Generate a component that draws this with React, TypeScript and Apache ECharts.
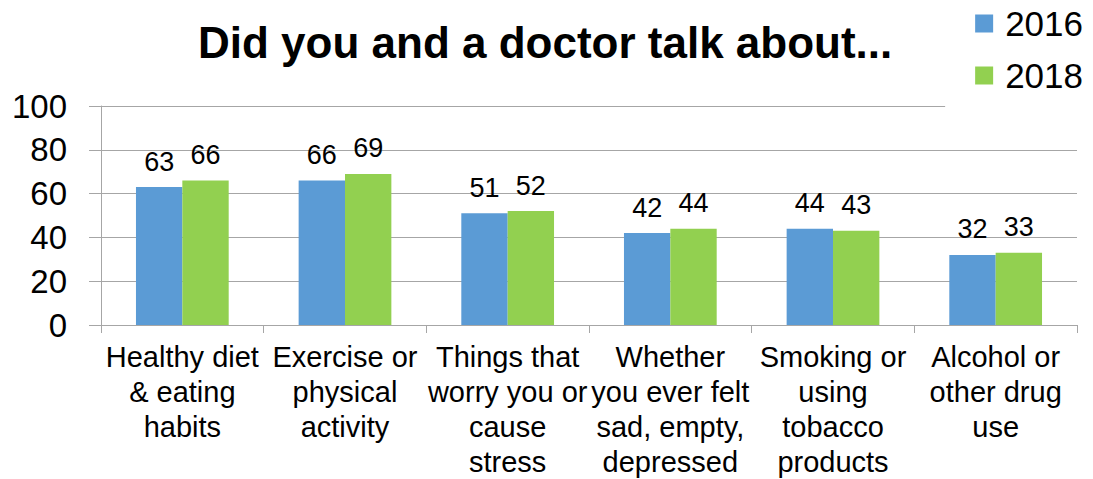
import React, { useEffect, useRef } from "react";
import * as echarts from "echarts";

const categories = [
  "Healthy diet\n& eating\nhabits",
  "Exercise or\nphysical\nactivity",
  "Things that\nworry you or\ncause\nstress",
  "Whether\nyou ever felt\nsad, empty,\ndepressed",
  "Smoking or\nusing\ntobacco\nproducts",
  "Alcohol or\nother drug\nuse",
];
const values2016 = [63, 66, 51, 42, 44, 32];
const values2018 = [66, 69, 52, 44, 43, 33];
const yTicks = { min: 0, max: 100, interval: 20 };

const FONT = "'Liberation Sans', Arial, sans-serif";

export default function App() {
  const ref = useRef<HTMLDivElement>(null);
  useEffect(() => {
    document.body.style.margin = "0";
    document.body.style.overflow = "hidden";
    const chart = echarts.init(ref.current!, null, { renderer: "svg" });
    const label = {
      show: true,
      position: "top",
      distance: 12,
      color: "#000",
      fontSize: 27,
      fontFamily: FONT,
    };
    chart.setOption({
      animation: false,
      title: {
        text: "Did you and a doctor talk about...",
        left: 193,
        top: 15,
        textStyle: { fontSize: 44, fontWeight: "bold", color: "#000", fontFamily: FONT },
      },
      legend: {
        orient: "vertical",
        right: 0,
        top: 0,
        padding: [6, 10, 15, 30],
        backgroundColor: "#fff",
        itemWidth: 18,
        itemHeight: 18,
        itemGap: 17,
        icon: "rect",
        textStyle: { fontSize: 35, color: "#000", fontFamily: FONT, padding: [0, 0, 0, 7] },
        data: ["2016", "2018"],
      },
      grid: { left: 101, right: 16, top: 106, bottom: 152, containLabel: false },
      xAxis: {
        type: "category",
        data: categories,
        axisLine: { lineStyle: { color: "#a6a6a6", width: 1 } },
        axisTick: { show: true, length: 8, lineStyle: { color: "#a6a6a6" } },
        axisLabel: {
          interval: 0,
          margin: 14,
          fontSize: 29,
          lineHeight: 35,
          color: "#000",
          fontFamily: FONT,
        },
      },
      yAxis: {
        type: "value",
        min: yTicks.min,
        max: yTicks.max,
        interval: yTicks.interval,
        axisLine: { show: true, lineStyle: { color: "#a6a6a6", width: 1 } },
        axisTick: { show: true, length: 12, lineStyle: { color: "#a6a6a6" } },
        splitLine: { lineStyle: { color: "#a6a6a6", width: 1 } },
        axisLabel: { margin: 34, fontSize: 33, color: "#000", fontFamily: FONT },
      },
      series: [
        {
          name: "2016",
          type: "bar",
          data: values2016,
          itemStyle: { color: "#5b9bd5" },
          barGap: "0%",
          barCategoryGap: "43%",
          label,
        },
        {
          name: "2018",
          type: "bar",
          data: values2018,
          itemStyle: { color: "#92d050" },
          label,
        },
      ],
    });
    return () => chart.dispose();
  }, []);
  return (
    <div
      ref={ref}
      style={{ position: "absolute", left: 0, top: 0, width: 1093, height: 479 }}
    />
  );
}
